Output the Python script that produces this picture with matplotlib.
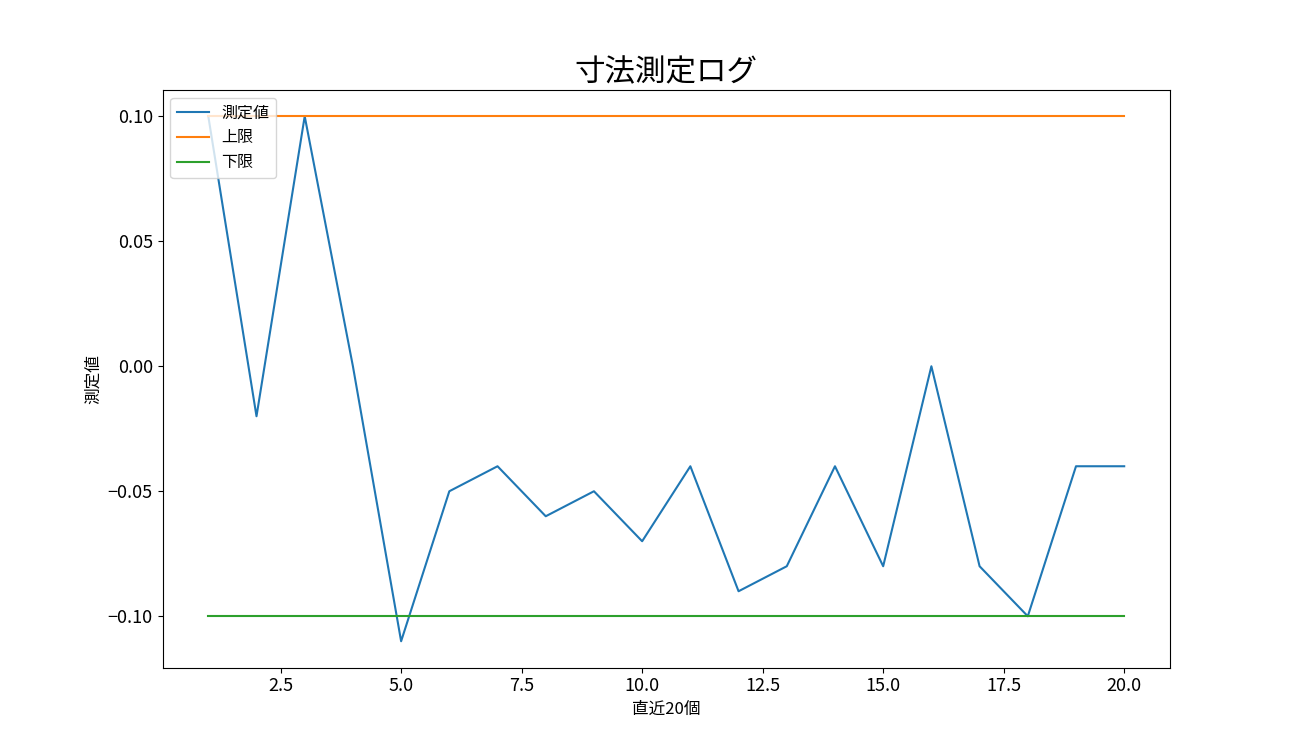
import matplotlib
matplotlib.use("Agg")
import matplotlib.pyplot as plt

plt.rcParams['font.family'] = ['Noto Sans CJK JP', 'DejaVu Sans']

# 直近20個の測定値
x = list(range(1, 21))
values = [0.10, -0.02, 0.10, 0.00, -0.11, -0.05, -0.04, -0.06, -0.05, -0.07,
          -0.04, -0.09, -0.08, -0.04, -0.08, 0.00, -0.08, -0.10, -0.04, -0.04]
upper = [0.10] * 20
lower = [-0.10] * 20

fig, ax = plt.subplots(figsize=(13, 7.5), dpi=100)

ax.plot(x, values, label='測定値')
ax.plot(x, upper, label='上限')
ax.plot(x, lower, label='下限')

ax.set_title('寸法測定ログ', fontsize=22)
ax.set_xlabel('直近20個', fontsize=12)
ax.set_ylabel('測定値', fontsize=12)
ax.tick_params(labelsize=13)
ax.legend(loc='upper left', fontsize=11.5)

fig.savefig('out.png', dpi=100)
